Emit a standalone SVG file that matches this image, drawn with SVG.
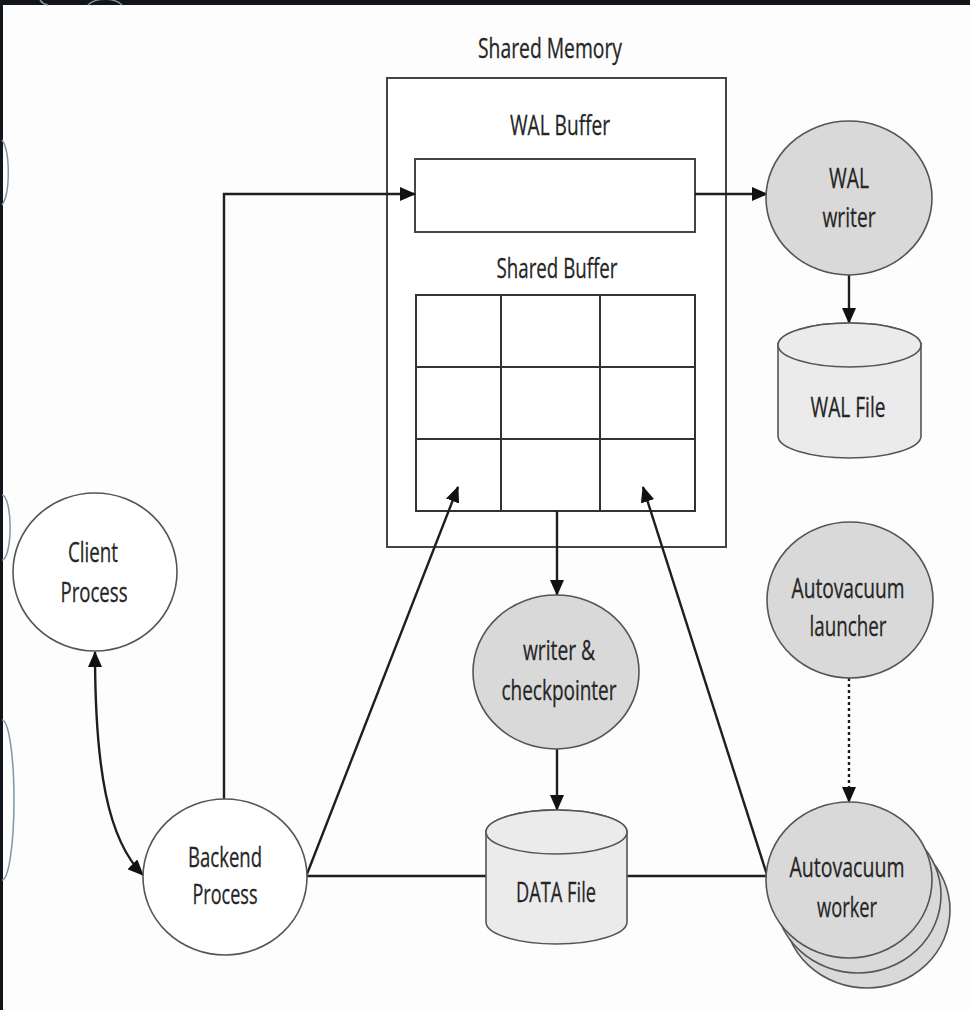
<svg xmlns="http://www.w3.org/2000/svg" width="970" height="1010" viewBox="0 0 970 1010">
  <style>
    .lbl { font-family: "Open Sans", "Liberation Sans", sans-serif; font-size: 28px; fill: #262626; text-anchor: middle; stroke: #262626; stroke-width: 0.3; }
    .box { fill: #ffffff; stroke: #444; stroke-width: 2; }
    .grid { fill: none; stroke: #333; stroke-width: 2; }
    .proc { fill: #ffffff; stroke: #555; stroke-width: 1.6; }
    .bg { fill: #d9d9d9; stroke: #555; stroke-width: 1.6; }
    .cyl { fill: #ebebeb; stroke: #555; stroke-width: 1.6; }
    .edge { fill: none; stroke: #1e1e1e; stroke-width: 2.4; }
    .dots { fill: none; stroke: #1e1e1e; stroke-width: 2.4; stroke-dasharray: 3 3; }
    .deco { fill: none; stroke: #7f97a5; stroke-width: 1.5; }
  </style>
  <defs>
    <marker id="arrow" viewBox="0 0 16 14" refX="15" refY="7" markerWidth="16" markerHeight="14" markerUnits="userSpaceOnUse" orient="auto-start-reverse">
      <path d="M0,0 L16,7 L0,14 Z" fill="#111"/>
    </marker>
  </defs>

  <!-- page background and dark frame -->
  <rect x="0" y="0" width="970" height="1010" fill="#fdfdfd"/>
  <rect x="0" y="0" width="970" height="5" fill="#12161a"/>
  <rect x="0" y="0" width="3" height="1010" fill="#12161a"/>
  <g id="frame-deco">
    <path class="deco" d="M40,0 A12,10 0 0 0 48,5"/>
    <path class="deco" d="M88,5 A20,12 0 0 1 122,5"/>
    <path class="deco" d="M2,140 A10,35 0 0 1 2,205"/>
    <path class="deco" d="M2,495 A8,32 0 0 1 2,560"/>
    <path class="deco" d="M2,720 A12,80 0 0 1 2,880"/>
  </g>

  <!-- shared memory region -->
  <g id="shared-memory">
    <rect class="box" x="387" y="78" width="339" height="469"/>
    <text class="lbl" x="550" y="58" textLength="144" lengthAdjust="spacingAndGlyphs">Shared Memory</text>
  </g>

  <g id="wal-buffer">
    <text class="lbl" x="560" y="135" textLength="100" lengthAdjust="spacingAndGlyphs">WAL Buffer</text>
    <rect class="box" x="415" y="159" width="280" height="73"/>
  </g>

  <g id="shared-buffer">
    <text class="lbl" x="557" y="278" textLength="121" lengthAdjust="spacingAndGlyphs">Shared Buffer</text>
    <rect class="grid" x="416" y="295" width="279" height="216"/>
    <path class="grid" d="M501,295 V511 M600,295 V511 M416,367 H695 M416,439 H695"/>
  </g>

  <!-- connectors -->
  <g id="connectors">
    <path class="edge" d="M224,799 V194 H415" marker-end="url(#arrow)"/>
    <path class="edge" d="M695,194 H767" marker-end="url(#arrow)"/>
    <path class="edge" d="M849,275 V323" marker-end="url(#arrow)"/>
    <path class="edge" d="M95,652 C95,770 108,840 143,875" marker-start="url(#arrow)" marker-end="url(#arrow)"/>
    <path class="edge" d="M307,874 L458,487" marker-end="url(#arrow)"/>
    <path class="edge" d="M307,876 H486 M627,876 H768"/>
    <path class="edge" d="M557,511 V595" marker-end="url(#arrow)"/>
    <path class="edge" d="M557,749 V810" marker-end="url(#arrow)"/>
    <path class="edge" d="M768,878 L643,487" marker-end="url(#arrow)"/>
    <path class="dots" d="M849,678 V802" marker-end="url(#arrow)"/>
  </g>

  <!-- process nodes -->
  <g id="wal-writer">
    <ellipse class="bg" cx="849" cy="198" rx="83" ry="77"/>
    <text class="lbl" x="849" y="188" textLength="40" lengthAdjust="spacingAndGlyphs">WAL</text>
    <text class="lbl" x="849" y="227" textLength="53" lengthAdjust="spacingAndGlyphs">writer</text>
  </g>

  <g id="wal-file">
    <path class="cyl" d="M778,345 V436 A71.5,22 0 0 0 921,436 V345 A71.5,22 0 0 0 778,345 Z"/>
    <ellipse class="cyl" cx="849.5" cy="345" rx="71.5" ry="22"/>
    <text class="lbl" x="848" y="417" textLength="75" lengthAdjust="spacingAndGlyphs">WAL File</text>
  </g>

  <g id="client-process">
    <ellipse class="proc" cx="95" cy="572" rx="82" ry="79"/>
    <text class="lbl" x="93" y="562" textLength="50" lengthAdjust="spacingAndGlyphs">Client</text>
    <text class="lbl" x="94" y="602" textLength="67" lengthAdjust="spacingAndGlyphs">Process</text>
  </g>

  <g id="backend-process">
    <ellipse class="proc" cx="225" cy="877" rx="82" ry="78"/>
    <text class="lbl" x="225" y="867" textLength="74" lengthAdjust="spacingAndGlyphs">Backend</text>
    <text class="lbl" x="225" y="904" textLength="65" lengthAdjust="spacingAndGlyphs">Process</text>
  </g>

  <g id="writer-checkpointer">
    <ellipse class="bg" cx="556" cy="672" rx="83" ry="77"/>
    <text class="lbl" x="559" y="660" textLength="72" lengthAdjust="spacingAndGlyphs">writer &amp;</text>
    <text class="lbl" x="559" y="700" textLength="115" lengthAdjust="spacingAndGlyphs">checkpointer</text>
  </g>

  <g id="data-file">
    <path class="cyl" d="M486,832 V922 A70.5,22 0 0 0 627,922 V832 A70.5,22 0 0 0 486,832 Z"/>
    <ellipse class="cyl" cx="556.5" cy="832" rx="70.5" ry="22"/>
    <text class="lbl" x="556" y="902" textLength="80" lengthAdjust="spacingAndGlyphs">DATA File</text>
  </g>

  <g id="autovacuum-launcher">
    <ellipse class="bg" cx="850" cy="600" rx="83" ry="78"/>
    <text class="lbl" x="848" y="598" textLength="113" lengthAdjust="spacingAndGlyphs">Autovacuum</text>
    <text class="lbl" x="848" y="636" textLength="77" lengthAdjust="spacingAndGlyphs">launcher</text>
  </g>

  <g id="autovacuum-worker">
    <ellipse class="bg" cx="867" cy="910" rx="83" ry="78"/>
    <ellipse class="bg" cx="858" cy="895" rx="83" ry="78"/>
    <ellipse class="bg" cx="849" cy="880" rx="83" ry="78"/>
    <text class="lbl" x="847" y="877" textLength="115" lengthAdjust="spacingAndGlyphs">Autovacuum</text>
    <text class="lbl" x="847" y="917" textLength="60" lengthAdjust="spacingAndGlyphs">worker</text>
  </g>
</svg>
